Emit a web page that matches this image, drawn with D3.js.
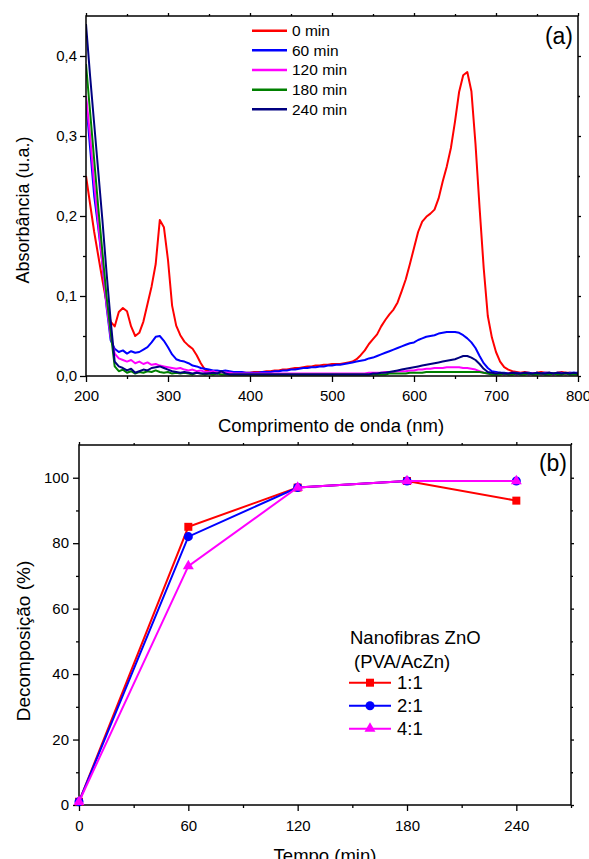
<!DOCTYPE html>
<html>
<head>
<meta charset="utf-8">
<script src="https://cdn.jsdelivr.net/npm/d3@7"></script>
<style>
  html, body { margin: 0; padding: 0; background: #fff; }
  svg { display: block; font-family: "Liberation Sans", Arial, sans-serif; }
</style>
</head>
<body>
<svg id="chart" width="589" height="859"></svg>
<script>
// ---------------- DATA (a): UV-Vis spectra ----------------
const wavelengths = d3.range(200, 805, 5); // 200..800 nm, 5 nm step
const spectraNames = ["0 min", "60 min", "120 min", "180 min", "240 min"];
const spectraColors = ["#ff0000", "#0000ff", "#ff00ff", "#008000", "#000080"];

const abs0 = [
  0.250,0.215,0.180,0.150,0.120,0.092,0.068,0.062,0.080,0.085,
  0.081,0.062,0.050,0.054,0.068,0.090,0.112,0.140,0.195,0.186,
  0.145,0.088,0.063,0.051,0.043,0.038,0.034,0.026,0.016,0.008,
  0.006,0.005,0.004,0.005,0.004,0.004,0.004,0.004,0.004,0.004,
  0.004,0.005,0.005,0.005,0.006,0.006,0.007,0.007,0.008,0.008,
  0.009,0.010,0.010,0.011,0.012,0.012,0.013,0.013,0.014,0.014,
  0.015,0.015,0.015,0.016,0.017,0.018,0.021,0.026,0.032,0.040,
  0.046,0.052,0.062,0.070,0.077,0.083,0.092,0.106,0.121,0.140,
  0.160,0.180,0.193,0.199,0.203,0.208,0.222,0.243,0.262,0.285,
  0.318,0.355,0.376,0.380,0.356,0.290,0.210,0.135,0.075,0.048,
  0.030,0.018,0.011,0.008,0.006,0.005,0.004,0.005,0.004,0.003,
  0.004,0.005,0.004,0.004,0.003,0.004,0.005,0.004,0.004,0.003,
  0.004];
const abs60 = [
  0.345,0.285,0.225,0.185,0.140,0.087,0.045,0.034,0.030,0.032,
  0.028,0.031,0.029,0.030,0.033,0.036,0.042,0.049,0.050,0.044,
  0.036,0.027,0.021,0.019,0.018,0.016,0.013,0.012,0.010,0.009,
  0.008,0.007,0.007,0.006,0.007,0.006,0.005,0.005,0.005,0.004,
  0.004,0.004,0.004,0.005,0.005,0.005,0.006,0.006,0.007,0.007,
  0.008,0.008,0.009,0.010,0.010,0.011,0.011,0.012,0.012,0.013,
  0.013,0.014,0.014,0.015,0.016,0.017,0.018,0.019,0.020,0.022,
  0.023,0.025,0.027,0.029,0.031,0.033,0.035,0.037,0.039,0.041,
  0.042,0.045,0.047,0.049,0.050,0.051,0.053,0.054,0.055,0.055,
  0.055,0.054,0.051,0.047,0.042,0.035,0.025,0.016,0.010,0.006,
  0.005,0.004,0.004,0.003,0.004,0.004,0.003,0.004,0.004,0.003,
  0.004,0.003,0.004,0.004,0.003,0.004,0.004,0.003,0.004,0.004,
  0.004];
const abs120 = [
  0.350,0.300,0.240,0.190,0.140,0.090,0.050,0.028,0.022,0.020,
  0.018,0.020,0.016,0.018,0.015,0.017,0.014,0.015,0.013,0.012,
  0.011,0.010,0.009,0.010,0.008,0.007,0.008,0.006,0.007,0.005,
  0.005,0.006,0.004,0.005,0.004,0.004,0.003,0.003,0.003,0.003,
  0.003,0.003,0.003,0.003,0.003,0.003,0.003,0.003,0.003,0.003,
  0.003,0.003,0.003,0.003,0.003,0.003,0.003,0.003,0.003,0.003,
  0.003,0.003,0.003,0.003,0.003,0.003,0.003,0.003,0.003,0.004,
  0.004,0.004,0.004,0.005,0.005,0.005,0.006,0.006,0.006,0.007,
  0.007,0.008,0.008,0.009,0.009,0.010,0.010,0.010,0.011,0.011,
  0.011,0.011,0.010,0.010,0.009,0.008,0.006,0.004,0.003,0.003,
  0.003,0.003,0.002,0.003,0.003,0.002,0.003,0.003,0.002,0.003,
  0.003,0.002,0.003,0.003,0.002,0.003,0.003,0.002,0.003,0.003,
  0.003];
const abs180 = [
  0.390,0.330,0.270,0.210,0.155,0.100,0.055,0.012,0.006,0.008,
  0.004,0.006,0.003,0.005,0.004,0.006,0.005,0.007,0.005,0.004,
  0.005,0.003,0.004,0.003,0.004,0.003,0.002,0.004,0.003,0.002,
  0.003,0.002,0.003,0.002,0.002,0.002,0.002,0.002,0.002,0.002,
  0.002,0.002,0.002,0.002,0.002,0.002,0.002,0.002,0.002,0.002,
  0.002,0.002,0.002,0.002,0.002,0.002,0.002,0.002,0.002,0.002,
  0.002,0.002,0.002,0.002,0.002,0.002,0.002,0.002,0.002,0.002,
  0.002,0.002,0.002,0.002,0.003,0.003,0.003,0.003,0.003,0.004,
  0.004,0.004,0.004,0.005,0.005,0.005,0.005,0.005,0.005,0.005,
  0.005,0.005,0.005,0.005,0.005,0.005,0.005,0.004,0.003,0.002,
  0.002,0.002,0.003,0.002,0.002,0.003,0.002,0.002,0.003,0.002,
  0.002,0.003,0.002,0.002,0.003,0.002,0.002,0.003,0.002,0.002,
  0.002];
const abs240 = [
  0.440,0.375,0.315,0.255,0.195,0.130,0.070,0.018,0.012,0.010,
  0.007,0.009,0.004,0.006,0.008,0.007,0.010,0.011,0.012,0.010,
  0.008,0.006,0.005,0.004,0.005,0.004,0.003,0.004,0.003,0.003,
  0.003,0.004,0.003,0.006,0.003,0.002,0.002,0.002,0.002,0.002,
  0.002,0.002,0.002,0.002,0.002,0.002,0.002,0.002,0.002,0.002,
  0.002,0.002,0.002,0.002,0.002,0.002,0.002,0.002,0.002,0.002,
  0.002,0.002,0.002,0.002,0.002,0.002,0.002,0.002,0.002,0.002,
  0.003,0.003,0.004,0.004,0.005,0.006,0.007,0.008,0.009,0.010,
  0.011,0.012,0.013,0.014,0.015,0.016,0.017,0.018,0.019,0.020,
  0.021,0.023,0.025,0.025,0.023,0.020,0.015,0.009,0.005,0.004,
  0.003,0.004,0.003,0.003,0.004,0.003,0.003,0.004,0.003,0.003,
  0.004,0.003,0.003,0.004,0.003,0.004,0.003,0.004,0.003,0.004,
  0.003];
const spectra = [abs0, abs60, abs120, abs180, abs240];

const wlTicks = [200, 300, 400, 500, 600, 700, 800];
const wlMinor = [250, 350, 450, 550, 650, 750];
const absTicks = [0, 0.1, 0.2, 0.3, 0.4];
const absMinor = [0.05, 0.15, 0.25, 0.35];

// ---------------- DATA (b): decomposition ----------------
const times = [0, 60, 120, 180, 240];
const dec11 = [1, 85, 97, 99, 93];
const dec21 = [1, 82, 97, 99, 99];
const dec41 = [1, 73, 97, 99, 99];
const ratioNames = ["1:1", "2:1", "4:1"];
const ratioColors = ["#ff0000", "#0000ff", "#ff00ff"];
const ratioSymbols = ["square", "circle", "triangle"];
const timeTicks = [0, 60, 120, 180, 240];
const timeMinor = [30, 90, 150, 210, 270];
const decTicks = [0, 20, 40, 60, 80, 100];
const decMinor = [10, 30, 50, 70, 90];

// ---------------- DRAW ----------------
const svg = d3.select("#chart");
const TICKFONT = "15px";
const comma = v => d3.format(".1f")(v).replace(".", ",");

function frame(g, x, y, xT, xM, yT, yM, xFmt, yFmt, xPad, yPad) {
  const [x0, x1] = x.range(), [y0, y1] = y.range();
  const tickStyle = sel => sel.selectAll("line").attr("stroke", "#000").attr("stroke-width", 1.3);
  const b = g.append("g").attr("transform", `translate(0,${y0})`)
    .call(d3.axisBottom(x).tickValues(xT).tickSize(6).tickPadding(xPad).tickFormat(xFmt));
  b.select(".domain").remove();
  b.selectAll("text").attr("font-size", TICKFONT).attr("fill", "#000").attr("font-family", "Liberation Sans, Arial");
  tickStyle(b);
  const bm = g.append("g").attr("transform", `translate(0,${y0})`)
    .call(d3.axisBottom(x).tickValues(xM).tickSize(3).tickFormat(""));
  bm.select(".domain").remove(); tickStyle(bm);
  const l = g.append("g").attr("transform", `translate(${x0},0)`)
    .call(d3.axisLeft(y).tickValues(yT).tickSize(6).tickPadding(yPad).tickFormat(yFmt));
  l.select(".domain").remove();
  l.selectAll("text").attr("font-size", TICKFONT).attr("fill", "#000").attr("font-family", "Liberation Sans, Arial");
  tickStyle(l);
  const lm = g.append("g").attr("transform", `translate(${x0},0)`)
    .call(d3.axisLeft(y).tickValues(yM).tickSize(3).tickFormat(""));
  lm.select(".domain").remove(); tickStyle(lm);
  const t = g.append("g").attr("transform", `translate(0,${y1})`)
    .call(d3.axisTop(x).tickValues(xT).tickSize(3).tickFormat(""));
  t.select(".domain").remove(); tickStyle(t);
  const tm = g.append("g").attr("transform", `translate(0,${y1})`)
    .call(d3.axisTop(x).tickValues(xM).tickSize(2).tickFormat(""));
  tm.select(".domain").remove(); tickStyle(tm);
  const r = g.append("g").attr("transform", `translate(${x1},0)`)
    .call(d3.axisRight(y).tickValues(yT).tickSize(3).tickFormat(""));
  r.select(".domain").remove(); tickStyle(r);
  const rm = g.append("g").attr("transform", `translate(${x1},0)`)
    .call(d3.axisRight(y).tickValues(yM).tickSize(2).tickFormat(""));
  rm.select(".domain").remove(); tickStyle(rm);
  g.append("rect").attr("x", x0).attr("y", y1).attr("width", x1 - x0).attr("height", y0 - y1)
    .attr("fill", "none").attr("stroke", "#000").attr("stroke-width", 1.5);
}

// ===== Panel (a) =====
const xa = d3.scaleLinear().domain([200, 800]).range([86, 578]);
const ya = d3.scaleLinear().domain([0, 0.45]).range([376, 16]);
const ga = svg.append("g");
ga.append("clipPath").attr("id", "clipA").append("rect")
  .attr("x", 86).attr("y", 16).attr("width", 492).attr("height", 360);
const lineA = d3.line().x((d, i) => xa(wavelengths[i])).y(d => ya(d));
const plotA = ga.append("g").attr("clip-path", "url(#clipA)");
spectra.forEach((s, k) => {
  plotA.append("path").datum(s).attr("d", lineA)
    .attr("fill", "none").attr("stroke", spectraColors[k]).attr("stroke-width", 2)
    .attr("stroke-linejoin", "round");
});
frame(ga, xa, ya, wlTicks, wlMinor, absTicks, absMinor, d3.format("d"), comma, 8, 3);

const legA = ga.append("g");
spectraNames.forEach((n, k) => {
  const yy = 30.7 + k * 19.65;
  legA.append("line").attr("x1", 252).attr("x2", 287).attr("y1", yy).attr("y2", yy)
    .attr("stroke", spectraColors[k]).attr("stroke-width", 2.5);
  legA.append("text").attr("x", 292).attr("y", yy).attr("dy", "0.35em")
    .attr("font-size", "15.5px").text(n);
});
ga.append("text").attr("x", 573).attr("y", 44).attr("text-anchor", "end")
  .attr("font-size", "23px").text("(a)");
ga.append("text").attr("x", 331).attr("y", 431.5).attr("text-anchor", "middle")
  .attr("font-size", "18.5px").text("Comprimento de onda (nm)");
ga.append("text").attr("transform", "translate(29,210) rotate(-90)").attr("text-anchor", "middle")
  .attr("font-size", "18px").text("Absorbância (u.a.)");

// ===== Panel (b) =====
const xb = d3.scaleLinear().domain([0, 270]).range([79, 571]);
const yb = d3.scaleLinear().domain([0, 110]).range([805, 445]);
const gb = svg.append("g");
frame(gb, xb, yb, timeTicks, timeMinor, decTicks, decMinor, d3.format("d"), d3.format("d"), 9, 4);

const decSeries = [dec11, dec21, dec41];
const symTypes = { square: d3.symbolSquare, circle: d3.symbolCircle, triangle: d3.symbolTriangle };
const symSizes = { square: 64, circle: 64, triangle: 52 };
const lineB = d3.line().x((d, i) => xb(times[i])).y(d => yb(d));
decSeries.forEach((s, k) => {
  gb.append("path").datum(s).attr("d", lineB)
    .attr("fill", "none").attr("stroke", ratioColors[k]).attr("stroke-width", 2);
  gb.selectAll(null).data(s).enter().append("path")
    .attr("transform", (d, i) => `translate(${xb(times[i])},${yb(d)})`)
    .attr("d", d3.symbol().type(symTypes[ratioSymbols[k]]).size(symSizes[ratioSymbols[k]]))
    .attr("fill", ratioColors[k]);
});

const legB = gb.append("g");
legB.append("text").attr("x", 350).attr("y", 644).attr("font-size", "18.5px").text("Nanofibras ZnO");
legB.append("text").attr("x", 354).attr("y", 668).attr("font-size", "18.5px").text("(PVA/AcZn)");
ratioNames.forEach((n, k) => {
  const yy = 682.7 + k * 23;
  legB.append("line").attr("x1", 349).attr("x2", 391).attr("y1", yy).attr("y2", yy)
    .attr("stroke", ratioColors[k]).attr("stroke-width", 2);
  legB.append("path").attr("transform", `translate(370,${yy})`)
    .attr("d", d3.symbol().type(symTypes[ratioSymbols[k]]).size(symSizes[ratioSymbols[k]]))
    .attr("fill", ratioColors[k]);
  legB.append("text").attr("x", 397).attr("y", yy).attr("dy", "0.35em")
    .attr("font-size", "18.5px").text(n);
});
gb.append("text").attr("x", 567).attr("y", 471).attr("text-anchor", "end")
  .attr("font-size", "23px").text("(b)");
gb.append("text").attr("x", 325).attr("y", 861.5).attr("text-anchor", "middle")
  .attr("font-size", "18.5px").text("Tempo (min)");
gb.append("text").attr("transform", "translate(30,641) rotate(-90)").attr("text-anchor", "middle")
  .attr("font-size", "19px").text("Decomposição (%)");
</script>
</body>
</html>
